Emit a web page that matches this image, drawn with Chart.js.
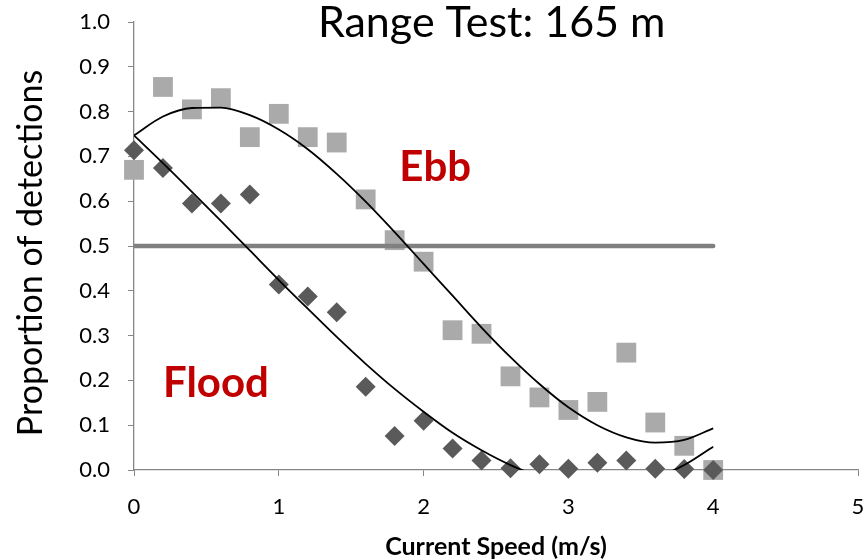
<!DOCTYPE html>
<html>
<head>
<meta charset="utf-8">
<title>Range Test: 165 m</title>
<script src="https://cdn.jsdelivr.net/npm/chart.js@4/dist/chart.umd.min.js"></script>
<style>
  html, body { margin: 0; padding: 0; background: #fff; }
</style>
</head>
<body>
<canvas id="graph" width="865" height="559"></canvas>
<script>
// current speed bins (m/s)
const speeds = [0, 0.2, 0.4, 0.6, 0.8, 1.0, 1.2, 1.4, 1.6, 1.8, 2.0,
                2.2, 2.4, 2.6, 2.8, 3.0, 3.2, 3.4, 3.6, 3.8, 4.0];

// proportion of detections per bin
const ebbDetections = [0.67, 0.855, 0.805, 0.83, 0.743, 0.795, 0.743, 0.731, 0.604, 0.513, 0.465,
                       0.312, 0.304, 0.209, 0.162, 0.134, 0.152, 0.262, 0.106, 0.054, 0.0];
const floodDetections = [0.714, 0.674, 0.595, 0.595, 0.615, 0.414, 0.387, 0.352, 0.186, 0.076, 0.11,
                         0.048, 0.021, 0.004, 0.013, 0.003, 0.016, 0.021, 0.003, 0.002, 0.0];

// polynomial trendlines, same speed bins
const ebbTrend = [0.747, 0.789, 0.808, 0.809, 0.792, 0.760, 0.716, 0.661, 0.599, 0.531, 0.460,
                  0.389, 0.318, 0.252, 0.192, 0.140, 0.100, 0.073, 0.061, 0.067, 0.093];
const floodTrend = [0.747, 0.685, 0.621, 0.556, 0.490, 0.424, 0.360, 0.297, 0.237, 0.181, 0.130,
                    0.083, 0.044, 0.011, -0.014, -0.030, -0.036, -0.032, -0.017, 0.011, 0.052];

// 50% detection reference
const halfLineX = [0, 4];
const halfLineY = 0.5;

const toPoints = (xs, ys) => xs.map((x, i) => ({ x: x, y: ys[i] }));

const FONT = 'Lato';

// free text: title and series names in data coordinates, y title beside the axis
const chartLabels = {
    id: 'chartLabels',
    afterDatasetsDraw(chart, args, opts) {
        const { ctx, chartArea, scales: { x, y } } = chart;
        ctx.save();
        ctx.textAlign = 'center';
        ctx.textBaseline = 'alphabetic';
        for (const item of opts.items) {
            ctx.font = item.font;
            ctx.fillStyle = item.color;
            ctx.fillText(item.text, x.getPixelForValue(item.x), y.getPixelForValue(item.y));
        }
        const t = opts.yTitle;
        ctx.font = t.font;
        ctx.fillStyle = t.color;
        ctx.textBaseline = 'middle';
        ctx.translate(chartArea.left - t.offset, (chartArea.top + chartArea.bottom) / 2 + t.shift);
        ctx.rotate(-Math.PI / 2);
        ctx.fillText(t.text, 0, 0);
        ctx.restore();
    }
};

new Chart(document.getElementById('graph'), {
    type: 'scatter',
    data: {
        datasets: [
            {
                label: 'Ebb trend',
                data: toPoints(speeds, ebbTrend),
                showLine: true,
                borderColor: '#000',
                borderWidth: 1.8,
                pointRadius: 0,
                cubicInterpolationMode: 'monotone',
                order: 0
            },
            {
                label: 'Flood trend',
                data: toPoints(speeds, floodTrend),
                showLine: true,
                borderColor: '#000',
                borderWidth: 1.8,
                pointRadius: 0,
                cubicInterpolationMode: 'monotone',
                order: 0
            },
            {
                label: '0.5',
                data: halfLineX.map(x => ({ x: x, y: halfLineY })),
                showLine: true,
                borderColor: '#808080',
                borderWidth: 4.5,
                borderCapStyle: 'round',
                pointRadius: 0,
                order: 1
            },
            {
                label: 'Flood',
                data: toPoints(speeds, floodDetections),
                pointStyle: 'rectRot',
                pointRadius: 10,
                pointBackgroundColor: '#5a5a5a',
                pointBorderWidth: 0,
                clip: false,
                order: 2
            },
            {
                label: 'Ebb',
                data: toPoints(speeds, ebbDetections),
                pointStyle: 'rect',
                pointRadius: 14,
                pointBackgroundColor: '#aaaaaa',
                pointBorderWidth: 0,
                clip: false,
                order: 3
            }
        ]
    },
    options: {
        responsive: false,
        animation: false,
        devicePixelRatio: 1,
        layout: {
            autoPadding: false,
            padding: { left: 0, right: 7, top: 22, bottom: 0 }
        },
        plugins: {
            legend: { display: false },
            tooltip: { enabled: false },
            chartLabels: {
                items: [
                    { text: 'Range Test: 165 m', x: 2.47, y: 0.966, font: '43px ' + FONT, color: '#000' },
                    { text: 'Ebb', x: 2.08, y: 0.644, font: 'bold 42px ' + FONT, color: '#c00000' },
                    { text: 'Flood', x: 0.566, y: 0.163, font: 'bold 42px ' + FONT, color: '#c00000' }
                ],
                yTitle: {
                    text: 'Proportion of detections',
                    font: '34px ' + FONT,
                    color: '#000',
                    offset: 103,
                    shift: 7
                }
            }
        },
        scales: {
            x: {
                type: 'linear',
                min: 0,
                max: 5,
                ticks: {
                    stepSize: 1,
                    color: '#000',
                    padding: 18,
                    maxRotation: 0,
                    font: { family: FONT, size: 22 }
                },
                grid: {
                    display: true,
                    drawOnChartArea: false,
                    drawTicks: true,
                    tickLength: 6,
                    color: '#868686'
                },
                border: { display: true, color: '#868686', width: 1.3 },
                title: {
                    display: true,
                    text: 'Current Speed (m/s)',
                    color: '#000',
                    font: { family: FONT, size: 25, weight: 'bold', lineHeight: 1.0 },
                    padding: { top: 0, bottom: 0 }
                },
                afterFit(scale) {
                    scale.height = 89;
                    scale.paddingLeft = 0;
                    scale.paddingRight = 0;
                }
            },
            y: {
                type: 'linear',
                min: 0,
                max: 1,
                ticks: {
                    stepSize: 0.1,
                    color: '#000',
                    padding: 18,
                    font: { family: FONT, size: 22 },
                    callback: v => v.toFixed(1)
                },
                grid: {
                    display: true,
                    drawOnChartArea: false,
                    drawTicks: true,
                    tickLength: 6,
                    color: '#868686'
                },
                border: { display: true, color: '#868686', width: 1.3 },
                afterFit(scale) {
                    scale.width = 134;
                    scale.paddingTop = 0;
                    scale.paddingBottom = 0;
                }
            }
        }
    },
    plugins: [chartLabels]
});
</script>
</body>
</html>
